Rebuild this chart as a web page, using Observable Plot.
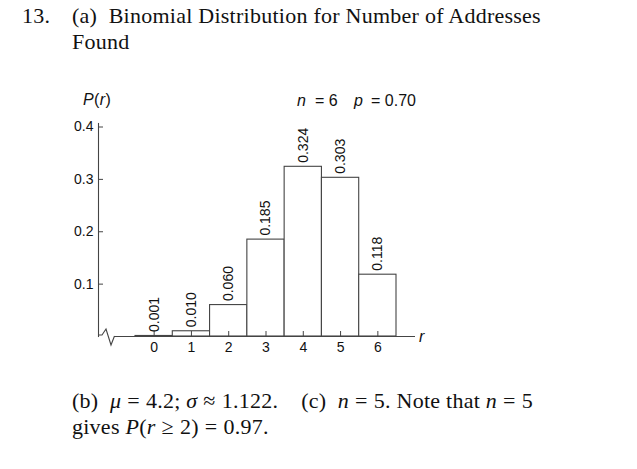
<!DOCTYPE html>
<html>
<head>
<meta charset="utf-8">
<script src="https://cdn.jsdelivr.net/npm/d3@7"></script>
<script src="https://cdn.jsdelivr.net/npm/@observablehq/plot@0.6"></script>
<style>
  html, body { margin: 0; padding: 0; background: #fff; }
  #page { position: relative; width: 637px; height: 469px; overflow: hidden; background: #fff; }
  .serif { position: absolute; font-family: "Liberation Serif", "DejaVu Serif", serif; font-size: 22px; line-height: 26px; letter-spacing: 0.25px; color: #111; white-space: nowrap; }
  .sans { position: absolute; font-family: "Liberation Sans", Arial, sans-serif; font-size: 16px; line-height: 16px; color: #111; white-space: nowrap; }
  .op { display: inline-block; margin: 0 6px; }
  #chart { position: absolute; left: 0; top: 60px; }
</style>
</head>
<body>
<div id="page">
  <div id="chart"></div>
  <div class="serif" style="left:22px; top:3px;">13.</div>
  <div class="serif" style="left:72px; top:3px;">(a)&nbsp; Binomial Distribution for Number of Addresses<br>Found</div>
  <div class="sans" style="left:83px; top:92px; letter-spacing:0.4px;"><i>P</i>(<i>r</i>)</div>
  <div class="sans" style="left:297px; top:93px;"><i>n</i></div>
  <div class="sans" style="left:315px; top:93px;">=&nbsp;6</div>
  <div class="sans" style="left:354px; top:93px;"><i>p</i></div>
  <div class="sans" style="left:371px; top:93px;">=&nbsp;0.70</div>
  <div class="sans" style="left:419px; top:329px;"><i>r</i></div>
  <div class="serif" style="left:72px; top:388px;">(b)&nbsp; <i>μ</i><span class="op">=</span>4.2; <i>σ</i><span class="op">≈</span>1.122.&nbsp;&nbsp;&nbsp; (c)&nbsp; <i>n</i><span class="op">=</span>5. Note that <i>n</i><span class="op">=</span>5<br>gives <i>P</i>(<i>r</i><span class="op">≥</span>2)<span class="op">=</span>0.97.</div>
</div>
<script>
const rValues = [0, 1, 2, 3, 4, 5, 6];
const probabilities = [0.001, 0.010, 0.060, 0.185, 0.324, 0.303, 0.118];
const valueLabels = ["0.001", "0.010", "0.060", "0.185", "0.324", "0.303", "0.118"];
const yTicks = [0.1, 0.2, 0.3, 0.4];
const xTicks = [0, 1, 2, 3, 4, 5, 6];

const data = rValues.map((r, i) => ({r, p: probabilities[i], label: valueLabels[i]}));

const lineColor = "#444";

const breakMark = (index, scales, values, dimensions) => {
  const x0 = dimensions.marginLeft;
  const y0 = scales.y(0);
  const path = d3.create("svg:path")
    .attr("fill", "none")
    .attr("stroke", lineColor)
    .attr("stroke-width", 1.1)
    .attr("d", `M${x0},${y0 - 1}L${x0 + 4},${y0 - 1}L${x0 + 8},${y0 - 7}L${x0 + 13},${y0 + 9}L${x0 + 16.5},${y0}`);
  return path.node();
};

const chart = Plot.plot({
  width: 637,
  height: 310,
  marginLeft: 98,
  marginRight: 222,
  marginTop: 63,
  marginBottom: 34,
  style: {fontFamily: "'Liberation Sans', Arial, sans-serif", fontSize: "14px", color: "#111", background: "transparent"},
  x: {type: "linear", domain: [-0.5, 6.5], range: [135, 396]},
  y: {domain: [0, 0.4], range: [276, 66.5]},
  marks: [
    Plot.frame({anchor: "left", stroke: lineColor, strokeWidth: 1.1}),
    breakMark,
    Plot.rectY(data, {x1: d => d.r - 0.5, x2: d => d.r + 0.5, y: "p", fill: "white", stroke: lineColor, strokeWidth: 1.1}),
    Plot.ruleY([0], {insetLeft: 16, stroke: lineColor, strokeWidth: 1.1}),
    Plot.axisX({ticks: xTicks, tickFormat: d => String(d), tickSize: -5, tickPadding: 11, stroke: lineColor, fill: "#111", fontSize: 14, label: null}),
    Plot.axisY({ticks: yTicks, tickFormat: d => d.toFixed(1), tickSize: -5, tickPadding: 10, stroke: lineColor, fill: "#111", fontSize: 14, label: null}),
    Plot.text(data, {x: "r", y: "p", text: "label", rotate: -90, textAnchor: "start", dy: -4, fill: "#111", fontSize: 14})
  ]
});
document.getElementById("chart").appendChild(chart);
</script>
</body>
</html>
